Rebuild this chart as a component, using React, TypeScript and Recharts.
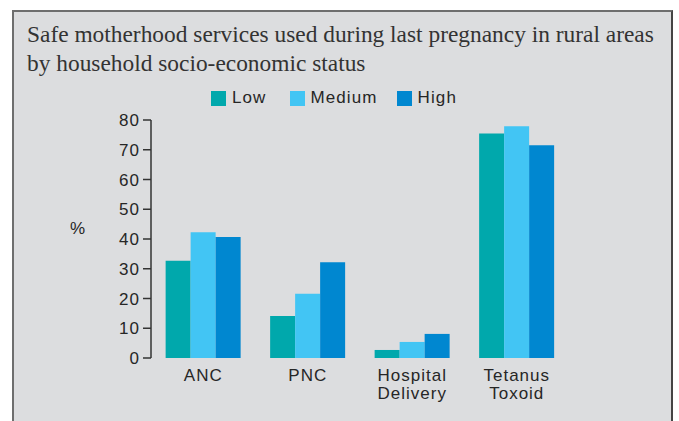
import { BarChart, Bar, XAxis, YAxis, Label } from 'recharts';

const categories = ['ANC', 'PNC', 'Hospital Delivery', 'Tetanus Toxoid'];
const lowValues = [32.7, 14.1, 2.7, 75.5];
const mediumValues = [42.3, 21.6, 5.4, 77.9];
const highValues = [40.7, 32.2, 8.1, 71.5];
const yTicks = [0, 10, 20, 30, 40, 50, 60, 70, 80];
const boundaryTicks = [0, 1, 2, 3, 4];

const series = [
  { key: 'low', name: 'Low', color: '#00a8ac' },
  { key: 'medium', name: 'Medium', color: '#42c5f4' },
  { key: 'high', name: 'High', color: '#0087d0' },
];

const data = categories.map((c, i) => ({
  category: c,
  low: lowValues[i],
  medium: mediumValues[i],
  high: highValues[i],
}));

const sans = "'Liberation Sans', Arial, sans-serif";
const ink = '#262626';

function CategoryTick(props: any) {
  const { x, y, payload } = props;
  const lines = String(payload.value).split(' ');
  return (
    <text
      x={x}
      y={y}
      textAnchor="middle"
      fill={ink}
      fontFamily={sans}
      fontSize={17}
      letterSpacing={1}
    >
      {lines.map((l, i) => (
        <tspan key={i} x={x} dy={i === 0 ? 13 : 18}>
          {l}
        </tspan>
      ))}
    </text>
  );
}

function ChartLegend() {
  const gaps = [23, 19, 0];
  return (
    <div
      style={{
        position: 'absolute',
        left: 211,
        top: 88,
        display: 'flex',
        alignItems: 'center',
        fontFamily: sans,
        fontSize: 17,
        color: ink,
        letterSpacing: 1.1,
      }}
    >
      {series.map((s, i) => (
        <div key={s.key} style={{ display: 'flex', alignItems: 'center', marginRight: gaps[i] }}>
          <span style={{ width: 15, height: 15, background: s.color, display: 'inline-block', marginRight: 6 }} />
          <span>{s.name}</span>
        </div>
      ))}
    </div>
  );
}

export default function App() {
  return (
    <div style={{ position: 'absolute', left: 0, top: 0, width: 679, height: 421, background: '#fff', overflow: 'hidden' }}>
      <div
        style={{
          position: 'absolute',
          left: 12,
          top: 10,
          width: 657,
          height: 430,
          background: '#dcdddf',
          borderLeft: '2px solid #6e6e6e',
          borderTop: '2px solid #6e6e6e',
          borderRight: '2px solid #444',
        }}
      />
      <div
        style={{
          position: 'absolute',
          left: 27,
          top: 20,
          fontFamily: "'Liberation Serif', 'Times New Roman', serif",
          fontSize: 23.4,
          lineHeight: '29px',
          color: '#333',
          whiteSpace: 'nowrap',
        }}
      >
        Safe motherhood services used during last pregnancy in rural areas
        <br />
        by household socio-economic status
      </div>
      <ChartLegend />
      <div style={{ position: 'absolute', left: 0, top: 0 }}>
        <BarChart
          width={679}
          height={421}
          data={data}
          margin={{ top: 120, right: 110, bottom: 0, left: 0 }}
          barCategoryGap="14%"
          barGap={0}
        >
          <XAxis
            xAxisId="edges"
            type="number"
            domain={[0, 4]}
            ticks={boundaryTicks}
            tick={false}
            height={0}
            tickSize={8}
            axisLine={{ stroke: '#333', strokeWidth: 1.5 }}
            tickLine={{ stroke: '#333', strokeWidth: 1.5 }}
            allowDataOverflow
          />
          <XAxis
            xAxisId="cat"
            dataKey="category"
            height={63}
            axisLine={false}
            tickLine={false}
            tickSize={8}
            tickMargin={2}
            interval={0}
            tick={<CategoryTick />}
          />
          <YAxis
            width={151}
            domain={[0, 80]}
            ticks={yTicks}
            tickSize={8}
            tickMargin={3}
            axisLine={{ stroke: '#333', strokeWidth: 1.5 }}
            tickLine={{ stroke: '#333', strokeWidth: 1.5 }}
            tick={{ fill: ink, fontSize: 17, fontFamily: sans, letterSpacing: 1 }}
          >
            <Label
              content={() => (
                <text x={70} y={234} fill={ink} fontFamily={sans} fontSize={17}>
                  %
                </text>
              )}
            />
          </YAxis>
          {series.map((s) => (
            <Bar
              key={s.key}
              xAxisId="cat"
              dataKey={s.key}
              name={s.name}
              fill={s.color}
              isAnimationActive={false}
            />
          ))}
        </BarChart>
      </div>
    </div>
  );
}
